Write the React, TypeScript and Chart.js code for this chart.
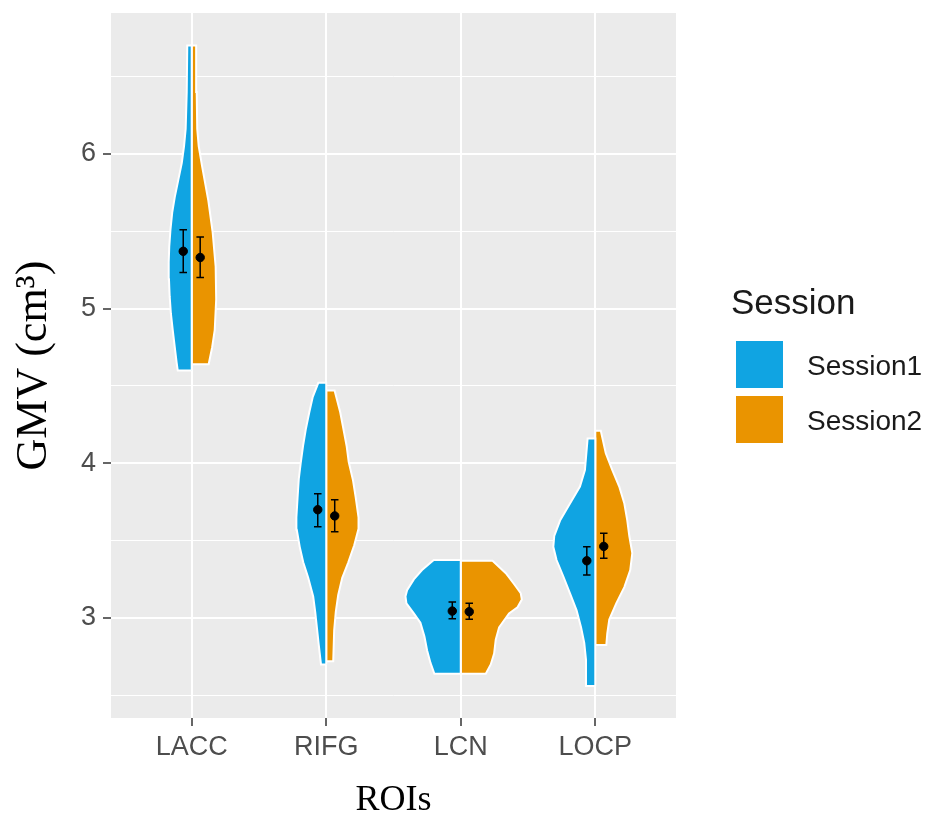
import { useEffect, useRef } from 'react';
import { Chart, registerables } from 'chart.js';

Chart.register(...registerables);

// ---- data ----
const categories = ['LACC', 'RIFG', 'LCN', 'LOCP'];
const sessionLabels = ['Session1', 'Session2'];
const sessionColors = ['#10A4E2', '#EA9400'];
const yTicks = [2.5, 3, 3.5, 4, 4.5, 5, 5.5, 6, 6.5];

// violin outlines: GMV levels and half-widths (x-axis units)
const laccS1Levels = [4.60, 4.65, 4.75, 4.86, 4.97, 5.08, 5.19, 5.30, 5.40, 5.51, 5.62, 5.72, 5.83, 5.94, 6.05, 6.16, 6.40, 6.70];
const laccS1Widths = [0.104, 0.112, 0.126, 0.141, 0.155, 0.164, 0.169, 0.171, 0.167, 0.158, 0.145, 0.126, 0.100, 0.074, 0.057, 0.045, 0.037, 0.033];
const laccS2Levels = [4.64, 4.75, 4.86, 5.06, 5.27, 5.49, 5.70, 5.92, 6.05, 6.16, 6.40, 6.70];
const laccS2Widths = [0.126, 0.152, 0.171, 0.182, 0.178, 0.156, 0.123, 0.077, 0.052, 0.041, 0.037, 0.033];

const rifgS1Levels = [2.70, 2.83, 3.04, 3.14, 3.26, 3.36, 3.46, 3.57, 3.65, 3.78, 3.90, 4.00, 4.12, 4.22, 4.33, 4.43, 4.52];
const rifgS1Widths = [0.039, 0.056, 0.082, 0.097, 0.134, 0.171, 0.197, 0.219, 0.222, 0.213, 0.204, 0.190, 0.171, 0.152, 0.126, 0.100, 0.059];
const rifgS2Levels = [2.72, 2.92, 3.04, 3.15, 3.26, 3.36, 3.47, 3.57, 3.65, 3.78, 3.89, 4.01, 4.11, 4.23, 4.33, 4.47];
const rifgS2Widths = [0.052, 0.059, 0.071, 0.089, 0.119, 0.164, 0.208, 0.238, 0.240, 0.219, 0.199, 0.167, 0.152, 0.126, 0.104, 0.062];

const lcnS1Levels = [2.64, 2.71, 2.79, 2.88, 2.97, 3.03, 3.095, 3.14, 3.18, 3.25, 3.31, 3.375];
const lcnS1Widths = [0.196, 0.225, 0.250, 0.270, 0.300, 0.349, 0.404, 0.411, 0.399, 0.349, 0.288, 0.201];
const lcnS2Levels = [2.64, 2.70, 2.77, 2.86, 2.94, 3.03, 3.07, 3.12, 3.16, 3.22, 3.29, 3.37];
const lcnS2Widths = [0.186, 0.223, 0.248, 0.260, 0.285, 0.359, 0.422, 0.454, 0.446, 0.396, 0.335, 0.236];

const locpS1Levels = [2.56, 2.73, 2.84, 2.94, 3.05, 3.16, 3.27, 3.375, 3.46, 3.53, 3.63, 3.74, 3.85, 3.957, 4.16];
const locpS1Widths = [0.065, 0.069, 0.082, 0.106, 0.139, 0.188, 0.238, 0.288, 0.312, 0.305, 0.262, 0.188, 0.114, 0.077, 0.057];
const locpS2Levels = [2.825, 2.90, 2.99, 3.095, 3.20, 3.31, 3.42, 3.53, 3.63, 3.74, 3.85, 3.957, 4.065, 4.21];
const locpS2Widths = [0.082, 0.089, 0.104, 0.156, 0.216, 0.260, 0.275, 0.253, 0.238, 0.216, 0.178, 0.126, 0.078, 0.041];

// means with error-bar limits, per ROI
const s1Mean = [5.37, 3.70, 3.045, 3.37];
const s1Lo = [5.233, 3.59, 2.996, 3.278];
const s1Hi = [5.509, 3.804, 3.103, 3.461];
const s2Mean = [5.33, 3.66, 3.041, 3.463];
const s2Lo = [5.20, 3.558, 2.992, 3.386];
const s2Hi = [5.463, 3.765, 3.095, 3.548];

const s1Violins = [
  [laccS1Levels, laccS1Widths],
  [rifgS1Levels, rifgS1Widths],
  [lcnS1Levels, lcnS1Widths],
  [locpS1Levels, locpS1Widths],
];
const s2Violins = [
  [laccS2Levels, laccS2Widths],
  [rifgS2Levels, rifgS2Widths],
  [lcnS2Levels, lcnS2Widths],
  [locpS2Levels, locpS2Widths],
];

const DODGE = 0.063;
const CAP = 0.028;

function halfViolin(center: number, side: number, levels: number[], widths: number[]) {
  const pts: { x: number; y: number }[] = [];
  pts.push({ x: center, y: levels[0] });
  levels.forEach((l, k) => pts.push({ x: center + side * widths[k], y: l }));
  pts.push({ x: center, y: levels[levels.length - 1] });
  pts.push({ x: center, y: levels[0] });
  return pts;
}

function errorBars(centers: number[], lo: number[], hi: number[]) {
  const pts: { x: number; y: number | null }[] = [];
  centers.forEach((c, i) => {
    pts.push({ x: c - CAP, y: hi[i] }, { x: c + CAP, y: hi[i] }, { x: c, y: null });
    pts.push({ x: c, y: hi[i] }, { x: c, y: lo[i] }, { x: c, y: null });
    pts.push({ x: c - CAP, y: lo[i] }, { x: c + CAP, y: lo[i] }, { x: c, y: null });
  });
  return pts;
}

const panelBg = {
  id: 'panelBg',
  beforeDraw(chart: any) {
    const { ctx, chartArea: a } = chart;
    ctx.save();
    ctx.fillStyle = '#EBEBEB';
    ctx.fillRect(a.left, a.top, a.right - a.left, a.bottom - a.top);
    ctx.restore();
  },
};

const sessionLegend = {
  id: 'sessionLegend',
  afterDraw(chart: any) {
    const { ctx, chartArea: a } = chart;
    const x0 = a.right + 55;
    ctx.save();
    ctx.fillStyle = '#1A1A1A';
    ctx.textAlign = 'left';
    ctx.textBaseline = 'alphabetic';
    ctx.font = '35px "Liberation Sans", Arial, sans-serif';
    ctx.fillText('Session', x0, 314);
    ctx.font = '28px "Liberation Sans", Arial, sans-serif';
    sessionLabels.forEach((lab, i) => {
      const top = 341 + i * 55;
      ctx.fillStyle = sessionColors[i];
      ctx.fillRect(x0 + 5, top, 47, 47);
      ctx.fillStyle = '#1A1A1A';
      ctx.fillText(lab, x0 + 76, top + 34);
    });
    ctx.restore();
  },
};

export default function App() {
  const ref = useRef<HTMLCanvasElement>(null);
  useEffect(() => {
    const centers = categories.map((_, i) => i + 1);
    const datasets: any[] = [];
    [s1Violins, s2Violins].forEach((vs, s) => {
      vs.forEach(([levels, widths], i) => {
        datasets.push({
          type: 'line',
          data: halfViolin(centers[i], s === 0 ? -1 : 1, levels, widths),
          borderColor: '#FFFFFF',
          borderWidth: 2,
          backgroundColor: sessionColors[s],
          fill: 'shape',
          pointRadius: 0,
          tension: 0,
          order: 3,
        });
      });
    });
    const c1 = centers.map((c) => c - DODGE);
    const c2 = centers.map((c) => c + DODGE);
    [
      [c1, s1Lo, s1Hi],
      [c2, s2Lo, s2Hi],
    ].forEach(([cs, lo, hi]) => {
      datasets.push({
        type: 'line',
        data: errorBars(cs, lo, hi),
        borderColor: '#000000',
        borderWidth: 1.5,
        pointRadius: 0,
        spanGaps: false,
        fill: false,
        order: 2,
      });
    });
    [
      [c1, s1Mean],
      [c2, s2Mean],
    ].forEach(([cs, m]) => {
      datasets.push({
        type: 'scatter',
        data: cs.map((x, i) => ({ x, y: m[i] })),
        backgroundColor: '#000000',
        borderColor: '#000000',
        pointRadius: 4.2,
        order: 1,
      });
    });

    const tickFont = { family: '"Liberation Sans", Arial, sans-serif', size: 27 };

    const chart = new Chart(ref.current!, {
      type: 'line',
      data: { datasets },
      plugins: [panelBg, sessionLegend],
      options: {
        animation: false,
        responsive: false,
        events: [],
        layout: { padding: { left: 0, right: 250, top: 13, bottom: 0 } },
        plugins: { legend: { display: false }, tooltip: { enabled: false } },
        scales: {
          x: {
            type: 'linear',
            min: 0.4,
            max: 4.6,
            afterBuildTicks: (scale: any) => {
              scale.ticks = centers.map((v) => ({ value: v }));
            },
            afterFit: (scale: any) => {
              scale.height = 97;
              scale.paddingLeft = 0;
              scale.paddingRight = 0;
            },
            ticks: {
              callback: (v: any) => categories[Math.round(Number(v)) - 1] ?? '',
              color: '#4D4D4D',
              font: tickFont,
              padding: 5,
              maxRotation: 0,
              autoSkip: false,
            },
            grid: {
              color: '#FFFFFF',
              lineWidth: 2,
              tickColor: '#333333',
              tickLength: 8,
              tickWidth: 1.5,
            },
            border: { display: false },
            title: {
              display: true,
              text: 'ROIs',
              color: '#000000',
              font: { family: '"Liberation Serif", "Times New Roman", serif', size: 36, lineHeight: 1 },
              padding: { top: 0, bottom: -4 },
            },
          },
          y: {
            type: 'linear',
            min: 2.354,
            max: 6.91,
            afterBuildTicks: (scale: any) => {
              scale.ticks = yTicks.map((v) => ({ value: v }));
            },
            afterFit: (scale: any) => {
              scale.width = 111;
              scale.paddingTop = 0;
              scale.paddingBottom = 0;
            },
            ticks: {
              callback: (v: any) => (Number.isInteger(Number(v)) ? String(v) : ''),
              color: '#4D4D4D',
              font: tickFont,
              padding: 7,
              autoSkip: false,
            },
            grid: {
              color: '#FFFFFF',
              lineWidth: (ctx: any) => (ctx.tick && Number.isInteger(ctx.tick.value) ? 2 : 1),
              tickColor: (ctx: any) => (ctx.tick && Number.isInteger(ctx.tick.value) ? '#333333' : 'rgba(0,0,0,0)'),
              tickLength: 8,
              tickWidth: 1.5,
            },
            border: { display: false },
            title: {
              display: true,
              text: 'GMV (cm³)',
              color: '#000000',
              font: { family: '"Liberation Serif", "Times New Roman", serif', size: 44, lineHeight: 1 },
              padding: { top: 12, bottom: 0 },
            },
          },
        },
      } as any,
    });
    return () => chart.destroy();
  }, []);
  return (
    <div style={{ position: 'fixed', left: 0, top: 0, width: 926, height: 815, background: '#FFFFFF' }}>
      <canvas ref={ref} width={926} height={815} style={{ display: 'block', width: 926, height: 815 }} />
    </div>
  );
}
